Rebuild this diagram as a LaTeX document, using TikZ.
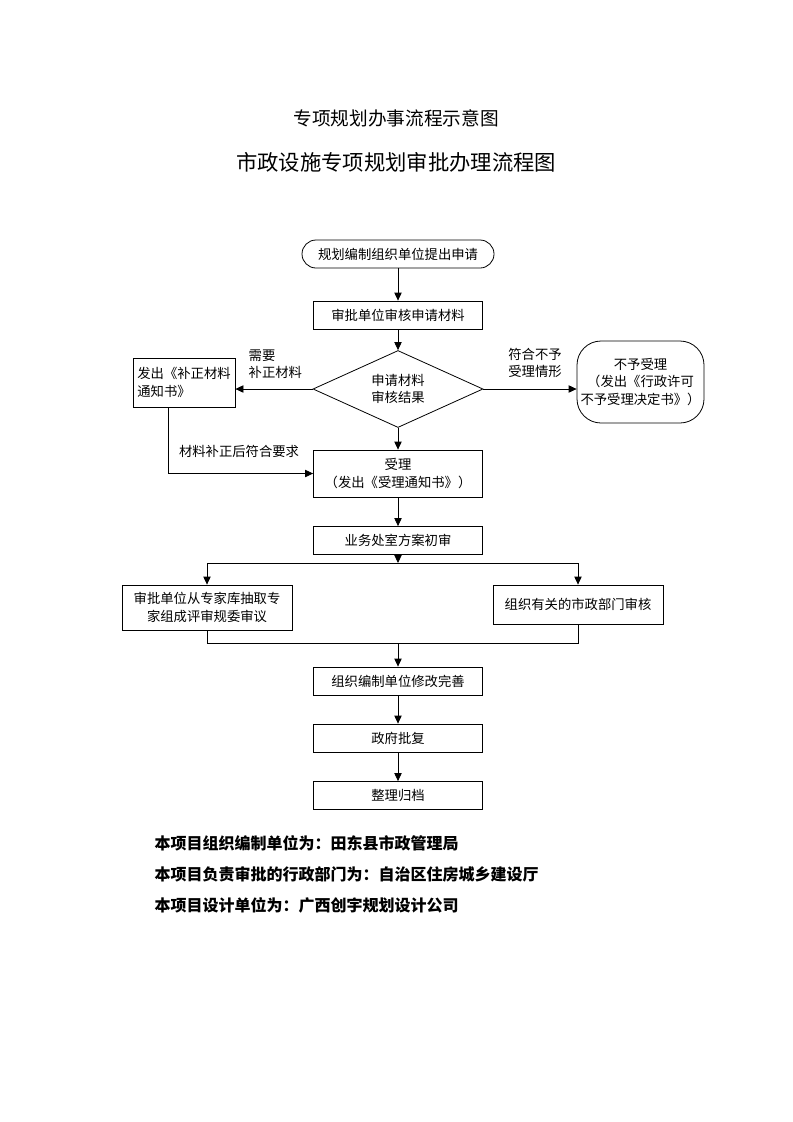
\documentclass[tikz,border=0pt]{standalone}
\usepackage{fontspec}
\setmainfont{Noto Sans CJK SC}
\usetikzlibrary{shapes.geometric, arrows.meta, positioning, calc}

\begin{document}
\begin{tikzpicture}[x=0.75pt, y=-0.75pt,
    every node/.style={font=\fontsize{10pt}{14pt}\selectfont},
    line/.style={line width=0.6pt},
    arr/.style={line width=0.6pt, -{Triangle[length=6pt, width=5.5pt]}},
    box/.style={draw, line width=0.6pt, minimum width=126.75pt, minimum height=21pt, align=center, inner sep=1pt},
    lbl/.style={align=left, font=\fontsize{10pt}{13pt}\selectfont}]
\useasboundingbox (0,0) rectangle (793,1122);

% Titles
\node[font=\fontsize{14pt}{16pt}\selectfont] (title) at (396,118) {专项规划办事流程示意图};
\node[font=\fontsize{16pt}{18pt}\selectfont] (subtitle) at (396,162) {市政设施专项规划审批办理流程图};

% Application and check
\node[box, minimum width=144pt, rounded corners=10.5pt] (apply) at (398,254) {规划编制组织单位提出申请};
\node[box] (check) at (398,315) {审批单位审核申请材料};
\node[draw, line, diamond, aspect=2.2, inner sep=0pt, minimum width=127.5pt, minimum height=57.75pt,
      align=center, font=\fontsize{10pt}{13pt}\selectfont] (result) at (398,389) {申请材料\\审核结果};

% Side results
\node[box, minimum width=76.5pt, minimum height=36.75pt, text width=70pt, align=left] (notice) at (184,382.5) {发出《补正材料\\通知书》};
\node[box, minimum width=95.25pt, minimum height=61.5pt, rounded corners=18pt,
      font=\fontsize{10pt}{13pt}\selectfont] (reject) at (640.5,382) {不予受理\\（发出《行政许可\\不予受理决定书》）};

% Main chain
\node[box, minimum height=35.25pt] (accept) at (398,473.5) {受理\\（发出《受理通知书》）};
\node[box] (prelim) at (398,540.5) {业务处室方案初审};
\node[box, minimum width=127.5pt, minimum height=33.75pt] (expert) at (207,607.5) {审批单位从专家库抽取专\\家组成评审规委审议};
\node[box, minimum width=127.5pt, minimum height=29.25pt] (dept) at (578,604.5) {组织有关的市政部门审核};
\node[box] (revise) at (398,681) {组织编制单位修改完善};
\node[box] (approve) at (398,738) {政府批复};
\node[box] (archive) at (398,795.5) {整理归档};

% Connectors
\draw[arr] (apply) -- (check);
\draw[arr] (check) -- (result);
\draw[arr] (result.west) -- (result.west -| notice.east);
\node[lbl, anchor=west] (needfix) at (244,364) {需要\\补正材料};
\draw[arr] (result.east) -- (result.east -| reject.west);
\node[lbl] (notfit) at (535,363) {符合不予\\受理情形};
\draw[arr] (result.south) -- (accept.north);

\coordinate (fixturn) at (168,473.5);
\draw[arr] (notice.south -| fixturn) -- (fixturn) -- (accept.west);
\node[lbl] (fixok) at (239,451) {材料补正后符合要求};

\draw[arr] (accept) -- (prelim);
\coordinate (splitL) at (207,563);
\coordinate (splitR) at (578,563);
\draw[arr] (prelim.south) -- (prelim.south |- splitL);
\draw[line] (splitL) -- (splitR);
\draw[arr] (splitL) -- (expert.north);
\draw[arr] (splitR) -- (dept.north);

\coordinate (joinL) at (207,643);
\coordinate (joinR) at (578,643);
\draw[line] (expert.south) -- (joinL) -- (joinR) -- (dept.south);
\draw[arr] (joinL -| revise) -- (revise.north);
\draw[arr] (revise) -- (approve);
\draw[arr] (approve) -- (archive);

% Notes
\node[anchor=west, font=\fontsize{12pt}{14pt}\selectfont\bfseries] (note1) at (150,843) {本项目组织编制单位为：田东县市政管理局};
\node[anchor=west, font=\fontsize{12pt}{14pt}\selectfont\bfseries] (note2) at (150,874) {本项目负责审批的行政部门为：自治区住房城乡建设厅};
\node[anchor=west, font=\fontsize{12pt}{14pt}\selectfont\bfseries] (note3) at (150,905) {本项目设计单位为：广西创宇规划设计公司};
\end{tikzpicture}
\end{document}
